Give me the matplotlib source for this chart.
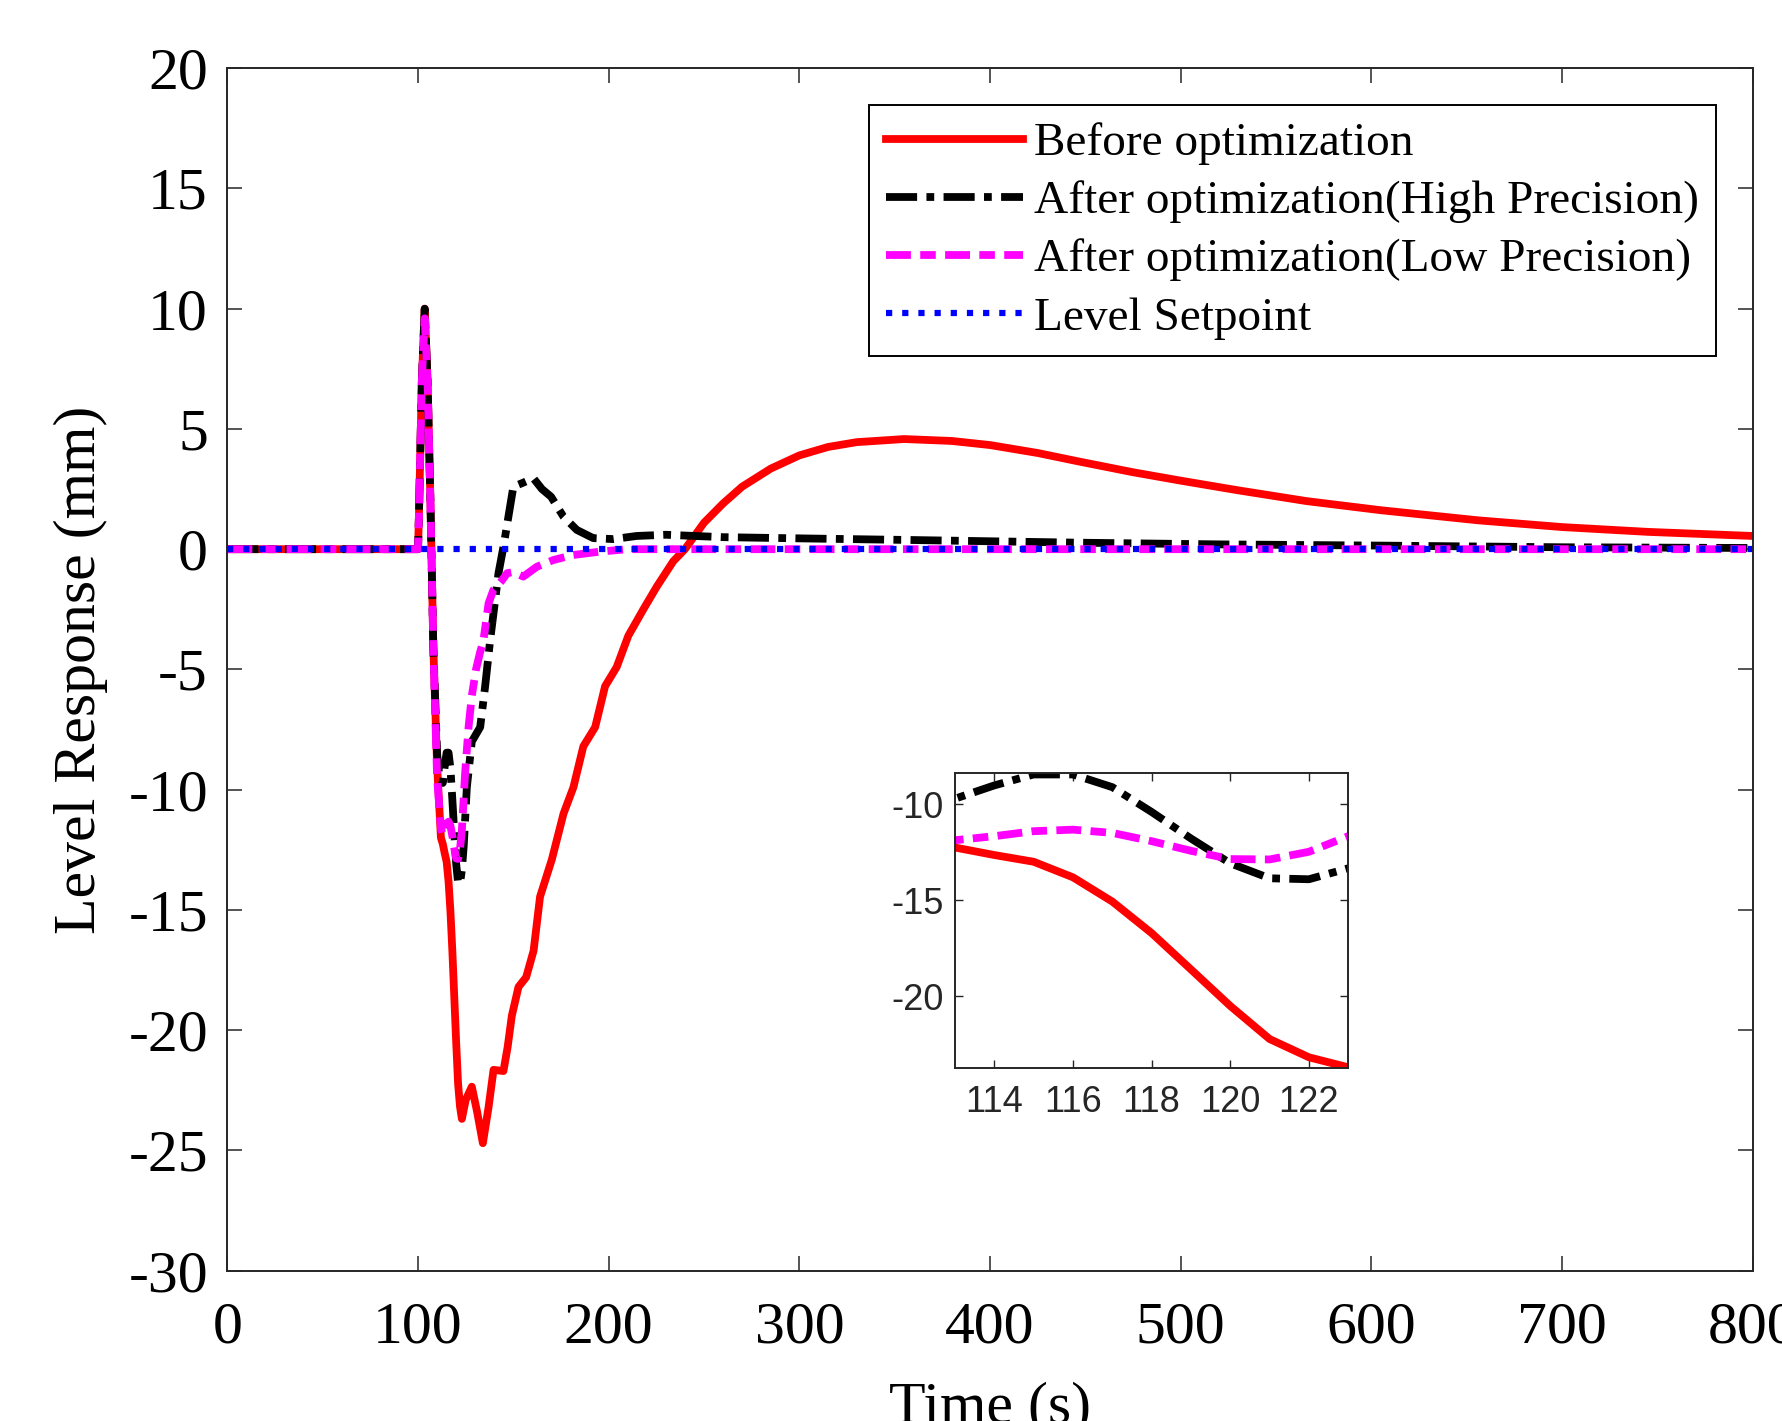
import numpy as np
import matplotlib.pyplot as plt

# ---- data ----
t_before = [0, 100, 100.5, 102, 103.5, 105, 106.5, 108, 110, 112,
            113, 114, 115, 116, 117, 118, 119, 120, 121, 122, 123,
            125, 128.2, 131, 134, 137, 139.6, 144.8, 147, 149.2, 152.7, 156.7,
            160.6, 164, 170.2, 176.3, 181.5, 186.7, 192.9, 198.1, 204.2, 210.3,
            218.2, 225.2, 233.9, 240, 250, 260, 270, 285, 300, 315, 330, 355,
            380, 400, 425, 447, 475, 500, 530, 566, 605, 656, 700, 745, 800]
y_before = [0, 0, 1.5, 7, 10, 7, 2, -4, -9, -12.0,
            -12.26, -12.65, -13.0, -13.81, -15.07, -16.71, -18.6, -20.5, -22.22, -23.17, -23.69,
            -22.9, -22.35, -23.4, -24.7, -23.2, -21.65, -21.7, -20.7, -19.4, -18.2, -17.8,
            -16.7, -14.45, -12.9, -11.0, -9.9, -8.2, -7.4, -5.7, -4.9, -3.6,
            -2.5, -1.56, -0.5, 0.0, 1.1, 1.9, 2.6, 3.35, 3.9, 4.25, 4.45, 4.58,
            4.5, 4.33, 4.0, 3.64, 3.2, 2.85, 2.45, 2.0, 1.62, 1.2, 0.92, 0.72, 0.55]

t_high = [0, 100, 100.5, 102, 103.5, 105, 106.5, 108, 110, 111, 112,
          113, 114, 115, 116, 117, 118, 119, 120, 121, 122, 123,
          124, 125.6, 128.2, 132.6, 135.2, 137.8, 142.2, 144.8, 147.4, 150,
          154.4, 160.5, 165, 169.8, 176.3, 183.3, 191.9, 202.4, 214.7, 230,
          260, 300, 360, 447, 520, 604, 700, 800]
y_high = [0, 0, 1.5, 7, 10, 7, 2, -4, -8.5, -9.3, -9.5,
          -9.72, -9.03, -8.46, -8.46, -9.12, -10.41, -11.79, -13.08, -13.86, -13.91, -13.34,
          -12.3, -9.9, -8.0, -7.4, -5.7, -3.8, -1.0, 0.1, 1.35, 2.6,
          2.74, 2.95, 2.5, 2.18, 1.35, 0.8, 0.46, 0.42, 0.55, 0.6,
          0.5, 0.45, 0.38, 0.27, 0.2, 0.15, 0.08, 0.05]

t_low = [0, 100, 100.5, 102, 103.5, 105, 106.5, 108, 110, 112,
         113, 114, 115, 116, 117, 118, 119, 120, 121, 122, 123,
         124.7, 126.5, 128.2, 130.4, 132.5, 134.3, 137, 139.5, 144, 146.7,
         150, 155.2, 162.3, 171, 181.5, 195.6, 210, 800]
y_low = [0, 0, 1.5, 7, 9.6, 7, 2, -4, -9.5, -11.6,
         -11.88, -11.67, -11.41, -11.33, -11.5, -11.93, -12.43, -12.86, -12.88, -12.48, -11.67,
         -9.3, -7.4, -6.1, -5.0, -4.3, -3.8, -2.25, -1.7, -1.3, -1.0,
         -0.95, -1.14, -0.73, -0.45, -0.24, -0.1, 0.0, 0.0]

t_set = [0, 800]
y_set = [0, 0]

labels = ["Before optimization",
          "After optimization(High Precision)",
          "After optimization(Low Precision)",
          "Level Setpoint"]

plt.rcParams['font.family'] = ['Liberation Serif', 'DejaVu Serif']
plt.rcParams['axes.unicode_minus'] = False
EDGE = '#262626'


def draw_lines(ax, lw):
    ax.plot(t_before, y_before, color='#ff0000', lw=lw, label=labels[0])
    ax.plot(t_high, y_high, color='black', lw=lw, dashes=(4.0, 1.2, 1.0, 1.2), label=labels[1])
    ax.plot(t_low, y_low, color='#ff00ff', lw=lw, dashes=(3.2, 1.2, 2.0, 1.2), label=labels[2])
    ax.plot(t_set, y_set, color='#0000ff', lw=lw * 0.8, dashes=(1.0, 1.6), label=labels[3])


fig = plt.figure(figsize=(17.82, 14.21), dpi=100)
ax = fig.add_axes([0.1276, 0.1058, 0.8559, 0.8462])
draw_lines(ax, 5.6)

ax.set_xlim(0, 800)
ax.set_ylim(-30, 20)
ax.set_xticks(np.arange(0, 801, 100))
ax.set_yticks(np.arange(-30, 21, 5))
ax.tick_params(direction='in', top=True, right=True, length=11, width=1.1,
               labelsize=43, colors=EDGE, labelcolor='black')
ax.tick_params(axis='x', pad=22)
ax.tick_params(axis='y', pad=14)
for sp in ax.spines.values():
    sp.set_color(EDGE)
    sp.set_linewidth(1.4)

ax.set_xlabel("Time (s)", fontsize=43)
ax.set_ylabel("Level Response (mm)", fontsize=43)
ax.xaxis.set_label_coords(0.5, -0.092)
ax.yaxis.set_label_coords(-0.078, 0.5)

leg = ax.legend(loc='upper right', bbox_to_anchor=(0.976, 0.969), fontsize=34,
                fancybox=False, framealpha=1, edgecolor='black', handlelength=2.9,
                handletextpad=0.25, labelspacing=0.32, borderpad=0.35, borderaxespad=0)
leg.get_frame().set_linewidth(1.4)

# ---- inset zoom ----
axin = fig.add_axes([0.5359, 0.2481, 0.2207, 0.2077])
draw_lines(axin, 5.6)
axin.set_xlim(113, 123)
axin.set_ylim(-23.75, -8.4)
axin.set_xticks([114, 116, 118, 120, 122])
axin.set_yticks([-20, -15, -10])
axin.tick_params(direction='in', top=True, right=True, length=6, width=1.0,
                 labelsize=26, colors=EDGE, labelcolor='#262626')
axin.tick_params(axis='x', pad=12)
axin.tick_params(axis='y', pad=8)
for lab in axin.get_xticklabels() + axin.get_yticklabels():
    lab.set_family(['Liberation Sans', 'DejaVu Sans'])
for sp in axin.spines.values():
    sp.set_color(EDGE)
    sp.set_linewidth(1.4)

fig.savefig("out.png", dpi=100)
